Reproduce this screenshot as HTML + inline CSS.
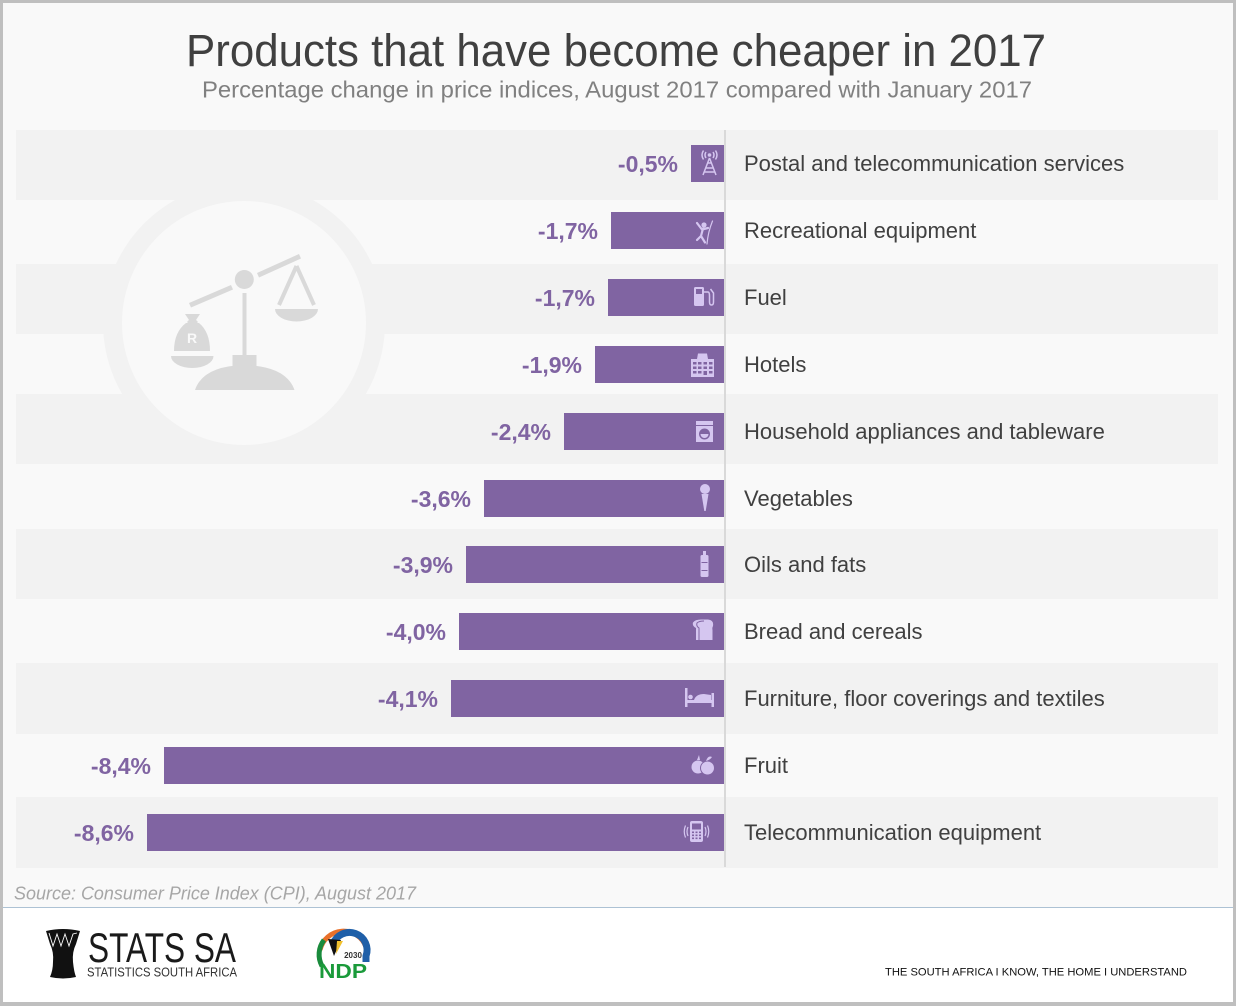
<!DOCTYPE html>
<html>
<head>
<meta charset="utf-8">
<style>
  html,body{margin:0;padding:0;background:#f9f9f9;}
  svg{display:block;}
  text{font-family:"Liberation Sans", Arial, sans-serif;}
</style>
</head>
<body>
<svg width="1236" height="1006" viewBox="0 0 1236 1006" xmlns="http://www.w3.org/2000/svg">
  <!-- outer border & background -->
  <rect x="0" y="0" width="1236" height="1006" fill="#bfbfbf"/>
  <rect x="3" y="3" width="1230" height="999" fill="#f9f9f9"/>
  <!-- footer white area -->
  <rect x="3" y="908" width="1230" height="94" fill="#ffffff"/>
  <rect x="3" y="907" width="1230" height="1" fill="#adc2d4"/>

  <!-- Title -->
  <text x="186" y="66" font-size="45.5" fill="#404040" textLength="860" lengthAdjust="spacingAndGlyphs">Products that have become cheaper in 2017</text>
  <text x="202" y="97.5" font-size="23" fill="#808080" textLength="830" lengthAdjust="spacingAndGlyphs">Percentage change in price indices, August 2017 compared with January 2017</text>

  <!-- stripes -->
  <g fill="#f2f2f2">
    <rect x="16" y="130" width="1202" height="70"/>
    <rect x="16" y="264" width="1202" height="70"/>
    <rect x="16" y="394" width="1202" height="70"/>
    <rect x="16" y="529" width="1202" height="70"/>
    <rect x="16" y="663" width="1202" height="71"/>
    <rect x="16" y="797" width="1202" height="71"/>
  </g>

  <!-- background scale emblem -->
  <circle cx="244" cy="323" r="141" fill="#f2f2f2"/>
  <circle cx="244" cy="323" r="122" fill="#f9f9f9"/>
  <g fill="#d9d9d9" stroke="none">
    <path d="M189 303 L231 285 L233 289.5 L191 307.5 Z"/>
    <path d="M257 273 L299 254 L301 258.5 L259 277.5 Z"/>
    <circle cx="244.3" cy="279.5" r="9.5"/>
    <rect x="242.5" y="293" width="4" height="63"/>
    <rect x="232.5" y="355" width="24" height="12"/>
    <path d="M195 390 Q203 366 244.5 365 Q286 366 294.5 390 Z"/>
    <path d="M275 309 L318 309 A21.5 12.5 0 0 1 275 309 Z"/>
    <path d="M171 356 L213.5 356 A21.25 12 0 0 1 171 356 Z"/>
    <path d="M185 314 L200 314 L196 320 Q199 322 197 323 L188 323 Q186 322 189 320 Z"/>
    <path d="M186 323 L199 323 Q210 332 210 351 L174 351 Q174 332 186 323 Z"/>
  </g>
  <g fill="none" stroke="#d9d9d9" stroke-width="4">
    <path d="M296.5 266 L279 305 M296.5 266 L314 305"/>
  </g>
  <text x="192" y="343" font-size="14" font-weight="bold" fill="#f9f9f9" text-anchor="middle">R</text>

  <!-- axis line -->
  <rect x="724" y="130" width="2" height="737" fill="#d9d9d9"/>

  <!-- bars -->
  <g fill="#8064a2">
    <rect x="691" y="145" width="33" height="37"/>
    <rect x="611" y="212" width="113" height="37"/>
    <rect x="608" y="279" width="116" height="37"/>
    <rect x="595" y="346" width="129" height="37"/>
    <rect x="564" y="413" width="160" height="37"/>
    <rect x="484" y="480" width="240" height="37"/>
    <rect x="466" y="546" width="258" height="37"/>
    <rect x="459" y="613" width="265" height="37"/>
    <rect x="451" y="680" width="273" height="37"/>
    <rect x="164" y="747" width="560" height="37"/>
    <rect x="147" y="814" width="577" height="37"/>
  </g>

  <!-- value labels -->
  <g font-size="23" font-weight="bold" fill="#8064a2" text-anchor="end">
    <text x="678" y="172">-0,5%</text>
    <text x="598" y="239">-1,7%</text>
    <text x="595" y="306">-1,7%</text>
    <text x="582" y="373">-1,9%</text>
    <text x="551" y="440">-2,4%</text>
    <text x="471" y="507">-3,6%</text>
    <text x="453" y="573">-3,9%</text>
    <text x="446" y="640">-4,0%</text>
    <text x="438" y="707">-4,1%</text>
    <text x="151" y="774">-8,4%</text>
    <text x="134" y="841">-8,6%</text>
  </g>

  <!-- category labels -->
  <g font-size="22" fill="#404040">
    <text x="744" y="171">Postal and telecommunication services</text>
    <text x="744" y="238">Recreational equipment</text>
    <text x="744" y="305">Fuel</text>
    <text x="744" y="372">Hotels</text>
    <text x="744" y="439">Household appliances and tableware</text>
    <text x="744" y="506">Vegetables</text>
    <text x="744" y="572">Oils and fats</text>
    <text x="744" y="639">Bread and cereals</text>
    <text x="744" y="706">Furniture, floor coverings and textiles</text>
    <text x="744" y="773">Fruit</text>
    <text x="744" y="840">Telecommunication equipment</text>
  </g>

  <!-- icons -->
  <g fill="#d5c6f0" stroke="none">
    <g fill="none" stroke="#d5c6f0" stroke-width="1.5">
      <path d="M709.5 158 L703 175 M709.5 158 L716 175 M705.5 168 L713.5 168 M707 163 L712 163 M704 172 L715 172"/>
      <path d="M706 152 Q704 155 706 158 M713 152 Q715 155 713 158 M703.5 150.5 Q700.5 155 703.5 159.5 M715.5 150.5 Q718.5 155 715.5 159.5"/>
    </g>
    <circle cx="709.5" cy="155" r="1.8"/>
    <circle cx="704" cy="225" r="2.6"/>
    <g fill="none" stroke="#d5c6f0" stroke-width="2.2" stroke-linecap="round">
      <path d="M703 228.5 L701 236 M697 223 L702 229.5 L708 228 M701 236 L697 240 M701 236 L705 242.5"/>
      <path d="M712.5 221 Q708 232 707 244" stroke-width="1.2"/>
    </g>
    <rect x="694" y="287" width="10" height="19" rx="1.5"/>
    <rect x="696" y="289" width="6" height="5" fill="#8064a2"/>
    <path d="M704 292 L708 292 Q709.5 292 709.5 296 L709.5 302 Q709.5 305 711.5 305 Q713.5 305 713.5 302 L713.5 293 L710.5 289" fill="none" stroke="#d5c6f0" stroke-width="1.5"/>
    <path d="M697 359 L698 353.5 L707 353.5 L708 359 Z"/>
    <rect x="691" y="359" width="23" height="18"/>
    <g fill="#8064a2">
      <rect x="693" y="362" width="3.5" height="2.5"/><rect x="698" y="362" width="3.5" height="2.5"/><rect x="703.5" y="362" width="3.5" height="2.5"/><rect x="709" y="362" width="3.5" height="2.5"/>
      <rect x="693" y="366.5" width="3.5" height="2.5"/><rect x="698" y="366.5" width="3.5" height="2.5"/><rect x="703.5" y="366.5" width="3.5" height="2.5"/><rect x="709" y="366.5" width="3.5" height="2.5"/>
      <rect x="693" y="371" width="3.5" height="2.5"/><rect x="698" y="371" width="3.5" height="2.5"/><rect x="703.5" y="371" width="3.5" height="4"/><rect x="709" y="371" width="3.5" height="2.5"/>
    </g>
    <rect x="696" y="421" width="17" height="21"/>
    <rect x="696" y="425" width="17" height="1" fill="#8064a2"/>
    <circle cx="704.5" cy="434" r="5.5" fill="#8064a2"/>
    <path d="M700.5 434 L708.5 434 A4 4 0 0 1 700.5 434 Z"/>
    <circle cx="705" cy="489" r="5"/>
    <path d="M701.5 494 L708.5 494 L705.7 511 L704.3 511 Z"/>
    <rect x="703" y="551" width="3" height="4.5"/>
    <rect x="700.5" y="555" width="8" height="22" rx="1.5"/>
    <rect x="701.5" y="562" width="6" height="1" fill="#8064a2"/>
    <rect x="701.5" y="570" width="6" height="1" fill="#8064a2"/>
    <path d="M696 640 L696 628 Q692 626 693 622.5 Q695 619.5 701 619.5 L708 619.5 Q714 620 713 626 Q712 628 712.5 630 L712.5 640 Z"/>
    <path d="M699 640 L699 628 Q696 626 697 623 Q699 621 704 621" fill="none" stroke="#8064a2" stroke-width="1"/>
    <rect x="685" y="688" width="2.5" height="19"/>
    <rect x="711.5" y="693" width="2.5" height="14"/>
    <rect x="685" y="700" width="29" height="3"/>
    <path d="M694 700 Q696 694 704 694 L711 695 L711 700 Z"/>
    <circle cx="690.5" cy="697" r="2.3"/>
    <circle cx="698" cy="767" r="6.5"/>
    <circle cx="707.5" cy="768" r="7" stroke="#8064a2" stroke-width="1"/>
    <path d="M697 760 L699 755 L700 760 Z M706 761 Q708 755 712 757 Q710 760 706 761 Z"/>
    <rect x="690" y="821" width="13" height="21" rx="2"/>
    <rect x="692" y="823.5" width="9" height="6" fill="#8064a2"/>
    <g fill="#8064a2">
      <rect x="692" y="831.5" width="2" height="1.6"/><rect x="695.5" y="831.5" width="2" height="1.6"/><rect x="699" y="831.5" width="2" height="1.6"/>
      <rect x="692" y="834.5" width="2" height="1.6"/><rect x="695.5" y="834.5" width="2" height="1.6"/><rect x="699" y="834.5" width="2" height="1.6"/>
      <rect x="692" y="837.5" width="2" height="1.6"/><rect x="695.5" y="837.5" width="2" height="1.6"/><rect x="699" y="837.5" width="2" height="1.6"/>
    </g>
    <g fill="none" stroke="#d5c6f0" stroke-width="1.2">
      <path d="M688 827 Q686 831.5 688 836 M685.5 825.5 Q683 831.5 685.5 837.5 M705 827 Q707 831.5 705 836 M707.5 825.5 Q710 831.5 707.5 837.5"/>
    </g>
  </g>

  <!-- source -->
  <text x="14" y="899.5" font-size="18" font-style="italic" fill="#a6a6a6" textLength="402" lengthAdjust="spacingAndGlyphs">Source: Consumer Price Index (CPI), August 2017</text>

  <!-- Stats SA logo -->
  <path d="M46 931 Q63 927 80 931 L76 944 Q72 952 73 962 Q74 972 76 977 Q63 980 50 977 Q53 970 53 962 Q54 952 50 944 Z" fill="#111"/>
  <polyline points="49,933 53,946 57,934 61,946 65,934 69,946 73,934 77,933" fill="none" stroke="#fff" stroke-width="0.9"/>
  <text x="88" y="962" font-size="42" fill="#1a1a1a" textLength="148" lengthAdjust="spacingAndGlyphs">STATS SA</text>
  <text x="87" y="976.7" font-size="13" fill="#333" textLength="150" lengthAdjust="spacingAndGlyphs">STATISTICS SOUTH AFRICA</text>

  <!-- NDP logo -->
  <circle cx="343" cy="954" r="25" fill="#ffffff"/>
  <path d="M320 950 A24 24 0 0 1 366 947" fill="none" stroke="#e8702a" stroke-width="5"/>
  <path d="M333 944 A15 15 0 0 1 366 956 L366 962" fill="none" stroke="#1f5fa8" stroke-width="7"/>
  <path d="M322 966 A24 24 0 0 1 324 940" fill="none" stroke="#1a8b3c" stroke-width="5"/>
  <polygon points="328,939 341,940 334,956" fill="#111"/>
  <polygon points="337,941 343,941 336,954" fill="#f2c12e"/>
  <text x="353" y="958" font-size="8" font-weight="bold" fill="#333" text-anchor="middle">2030</text>
  <text x="319" y="978" font-size="20" font-weight="bold" fill="#1a9a3a" textLength="48" lengthAdjust="spacingAndGlyphs">NDP</text>

  <!-- tagline -->
  <text x="885" y="975.7" font-size="11" fill="#111" textLength="302" lengthAdjust="spacingAndGlyphs">THE SOUTH AFRICA I KNOW, THE HOME I UNDERSTAND</text>
</svg>
</body>
</html>
